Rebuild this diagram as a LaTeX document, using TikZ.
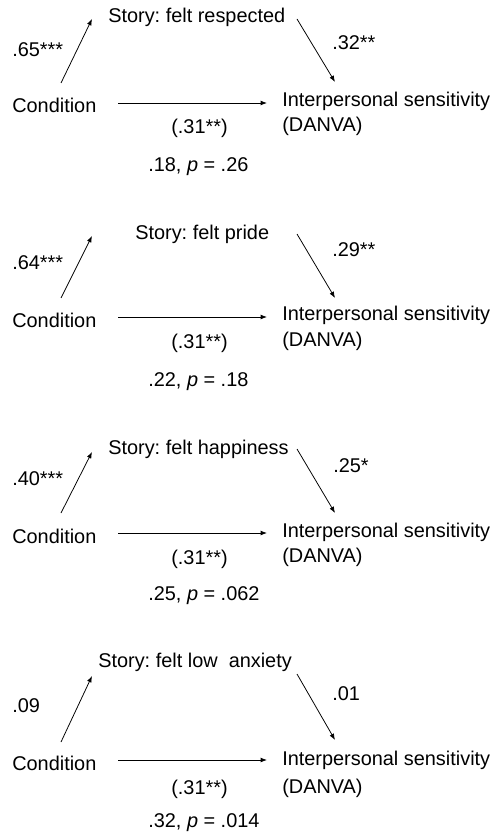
\documentclass[tikz,border=0pt]{standalone}
\usepackage{fontspec}
\setmainfont{Liberation Sans}
\usetikzlibrary{arrows.meta}
\frenchspacing

\begin{document}
\begin{tikzpicture}[x=0.025cm,y=-0.025cm,
  lbl/.style={anchor=base west,inner sep=0pt,font=\fontsize{14.15}{17}\selectfont},
  arr/.style={-{Latex[length=4.5pt,width=3.4pt]},line width=0.55pt}]
\useasboundingbox (0,0) rectangle (493,832);

\node[lbl] (story1) at (108,23) {Story: felt respected};
\node[lbl] (a1) at (12,57) {.65***};
\node[lbl] (b1) at (332,50) {.32**};
\node[lbl] (cond1) at (12,113) {Condition};
\node[lbl] (sens1) at (282,107) {Interpersonal sensitivity};
\node[lbl] (danva1) at (282,132) {(DANVA)};
\node[lbl] (tot1) at (171,134) {(.31**)};
\node[lbl] (dir1) at (148,172) {.18, \textit{p} = .26};
\coordinate (l1a) at (61,83); \coordinate (l1b) at (92,19);
\coordinate (r1a) at (297,19); \coordinate (r1b) at (335,82);
\coordinate (h1a) at (118,103); \coordinate (h1b) at (267,103);
\draw[arr] (l1a) -- (l1b);
\draw[arr] (r1a) -- (r1b);
\draw[arr] (h1a) -- (h1b);

\node[lbl] (story2) at (135,240) {Story: felt pride};
\node[lbl] (a2) at (12,270) {.64***};
\node[lbl] (b2) at (332,257) {.29**};
\node[lbl] (cond2) at (12,327) {Condition};
\node[lbl] (sens2) at (282,321) {Interpersonal sensitivity};
\node[lbl] (danva2) at (282,346) {(DANVA)};
\node[lbl] (tot2) at (171,348) {(.31**)};
\node[lbl] (dir2) at (148,386) {.22, \textit{p} = .18};
\coordinate (l2a) at (61,298); \coordinate (l2b) at (92,236);
\coordinate (r2a) at (297,234); \coordinate (r2b) at (335,298);
\coordinate (h2a) at (118,317); \coordinate (h2b) at (267,317);
\draw[arr] (l2a) -- (l2b);
\draw[arr] (r2a) -- (r2b);
\draw[arr] (h2a) -- (h2b);

\node[lbl] (story3) at (108,454) {Story: felt happiness};
\node[lbl] (a3) at (12,485) {.40***};
\node[lbl] (b3) at (333,472) {.25*};
\node[lbl] (cond3) at (12,543) {Condition};
\node[lbl] (sens3) at (282,537) {Interpersonal sensitivity};
\node[lbl] (danva3) at (282,562) {(DANVA)};
\node[lbl] (tot3) at (171,564) {(.31**)};
\node[lbl] (dir3) at (148,600) {.25, \textit{p} = .062};
\coordinate (l3a) at (61,513); \coordinate (l3b) at (92,452);
\coordinate (r3a) at (297,449); \coordinate (r3b) at (335,513);
\coordinate (h3a) at (118,533); \coordinate (h3b) at (267,533);
\draw[arr] (l3a) -- (l3b);
\draw[arr] (r3a) -- (r3b);
\draw[arr] (h3a) -- (h3b);

\node[lbl] (story4) at (98,667) {Story: felt low\ \ anxiety};
\node[lbl] (a4) at (12,712) {.09};
\node[lbl] (b4) at (332,700) {.01};
\node[lbl] (cond4) at (12,770) {Condition};
\node[lbl] (sens4) at (282,765) {Interpersonal sensitivity};
\node[lbl] (danva4) at (282,793) {(DANVA)};
\node[lbl] (tot4) at (171,794) {(.31**)};
\node[lbl] (dir4) at (148,827) {.32, \textit{p} = .014};
\coordinate (l4a) at (61,742); \coordinate (l4b) at (92,676);
\coordinate (r4a) at (297,674); \coordinate (r4b) at (335,740);
\coordinate (h4a) at (118,760); \coordinate (h4b) at (267,760);
\draw[arr] (l4a) -- (l4b);
\draw[arr] (r4a) -- (r4b);
\draw[arr] (h4a) -- (h4b);
\end{tikzpicture}
\end{document}
